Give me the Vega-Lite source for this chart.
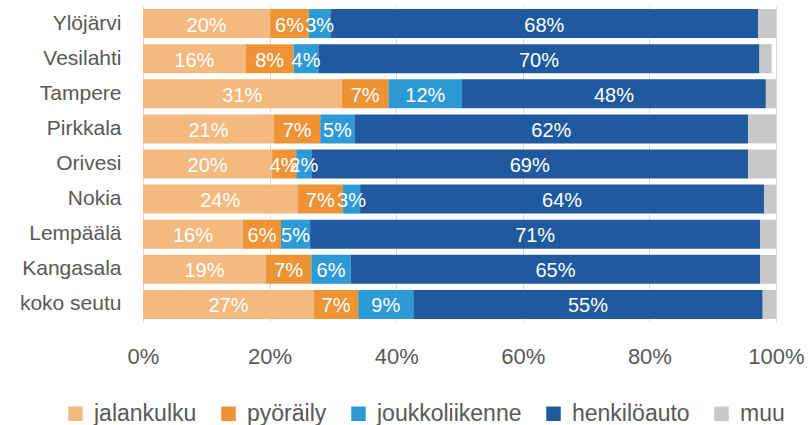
{
  "$schema": "https://vega.github.io/schema/vega-lite/v6.json",
  "width": 633,
  "height": 316,
  "autosize": {"type": "none"},
  "padding": {"left": 143, "top": 6, "right": 32, "bottom": 103},
  "background": "white",
  "data": {
    "values": [
      {"place": "Ylöjärvi", "mode": "jalankulku", "k": 1, "value": 0.201},
      {"place": "Ylöjärvi", "mode": "pyöräily", "k": 2, "value": 0.061},
      {"place": "Ylöjärvi", "mode": "joukkoliikenne", "k": 3, "value": 0.034},
      {"place": "Ylöjärvi", "mode": "henkilöauto", "k": 4, "value": 0.676},
      {"place": "Ylöjärvi", "mode": "muu", "k": 5, "value": 0.028},
      {"place": "Vesilahti", "mode": "jalankulku", "k": 1, "value": 0.162},
      {"place": "Vesilahti", "mode": "pyöräily", "k": 2, "value": 0.076},
      {"place": "Vesilahti", "mode": "joukkoliikenne", "k": 3, "value": 0.039},
      {"place": "Vesilahti", "mode": "henkilöauto", "k": 4, "value": 0.697},
      {"place": "Vesilahti", "mode": "muu", "k": 5, "value": 0.019},
      {"place": "Tampere", "mode": "jalankulku", "k": 1, "value": 0.314},
      {"place": "Tampere", "mode": "pyöräily", "k": 2, "value": 0.074},
      {"place": "Tampere", "mode": "joukkoliikenne", "k": 3, "value": 0.116},
      {"place": "Tampere", "mode": "henkilöauto", "k": 4, "value": 0.480},
      {"place": "Tampere", "mode": "muu", "k": 5, "value": 0.016},
      {"place": "Pirkkala", "mode": "jalankulku", "k": 1, "value": 0.207},
      {"place": "Pirkkala", "mode": "pyöräily", "k": 2, "value": 0.073},
      {"place": "Pirkkala", "mode": "joukkoliikenne", "k": 3, "value": 0.054},
      {"place": "Pirkkala", "mode": "henkilöauto", "k": 4, "value": 0.622},
      {"place": "Pirkkala", "mode": "muu", "k": 5, "value": 0.044},
      {"place": "Orivesi", "mode": "jalankulku", "k": 1, "value": 0.204},
      {"place": "Orivesi", "mode": "pyöräily", "k": 2, "value": 0.038},
      {"place": "Orivesi", "mode": "joukkoliikenne", "k": 3, "value": 0.024},
      {"place": "Orivesi", "mode": "henkilöauto", "k": 4, "value": 0.690},
      {"place": "Orivesi", "mode": "muu", "k": 5, "value": 0.044},
      {"place": "Nokia", "mode": "jalankulku", "k": 1, "value": 0.244},
      {"place": "Nokia", "mode": "pyöräily", "k": 2, "value": 0.072},
      {"place": "Nokia", "mode": "joukkoliikenne", "k": 3, "value": 0.027},
      {"place": "Nokia", "mode": "henkilöauto", "k": 4, "value": 0.638},
      {"place": "Nokia", "mode": "muu", "k": 5, "value": 0.019},
      {"place": "Lempäälä", "mode": "jalankulku", "k": 1, "value": 0.158},
      {"place": "Lempäälä", "mode": "pyöräily", "k": 2, "value": 0.060},
      {"place": "Lempäälä", "mode": "joukkoliikenne", "k": 3, "value": 0.046},
      {"place": "Lempäälä", "mode": "henkilöauto", "k": 4, "value": 0.711},
      {"place": "Lempäälä", "mode": "muu", "k": 5, "value": 0.025},
      {"place": "Kangasala", "mode": "jalankulku", "k": 1, "value": 0.194},
      {"place": "Kangasala", "mode": "pyöräily", "k": 2, "value": 0.072},
      {"place": "Kangasala", "mode": "joukkoliikenne", "k": 3, "value": 0.062},
      {"place": "Kangasala", "mode": "henkilöauto", "k": 4, "value": 0.647},
      {"place": "Kangasala", "mode": "muu", "k": 5, "value": 0.025},
      {"place": "koko seutu", "mode": "jalankulku", "k": 1, "value": 0.270},
      {"place": "koko seutu", "mode": "pyöräily", "k": 2, "value": 0.070},
      {"place": "koko seutu", "mode": "joukkoliikenne", "k": 3, "value": 0.087},
      {"place": "koko seutu", "mode": "henkilöauto", "k": 4, "value": 0.552},
      {"place": "koko seutu", "mode": "muu", "k": 5, "value": 0.021}
    ]
  },
  "encoding": {
    "y": {
      "field": "place",
      "type": "nominal",
      "sort": null,
      "title": null,
      "scale": {"paddingInner": 0.174, "paddingOuter": 0.087},
      "axis": {
        "domain": false,
        "ticks": false,
        "labelFont": "Liberation Sans",
        "labelFontSize": 21,
        "labelColor": "#595959",
        "labelPadding": 22
      }
    }
  },
  "layer": [
    {
      "mark": {"type": "bar"},
      "encoding": {
        "x": {
          "field": "value",
          "type": "quantitative",
          "stack": "zero",
          "title": null,
          "scale": {"domain": [0, 1], "nice": false},
          "axis": {
            "values": [0, 0.2, 0.4, 0.6, 0.8, 1],
            "format": ".0%",
            "grid": true,
            "gridColor": "#d9d9d9",
            "gridWidth": 1,
            "domain": false,
            "ticks": false,
            "labelFont": "Liberation Sans",
            "labelFontSize": 22,
            "labelColor": "#595959",
            "labelPadding": 24,
            "labelFlush": false
          }
        },
        "color": {
          "field": "mode",
          "type": "nominal",
          "sort": ["jalankulku", "pyöräily", "joukkoliikenne", "henkilöauto", "muu"],
          "scale": {
            "domain": ["jalankulku", "pyöräily", "joukkoliikenne", "henkilöauto", "muu"],
            "range": ["#F3B97E", "#EE9336", "#2E9AD5", "#205A9E", "#C8C8C8"]
          },
          "legend": {
            "title": null,
            "orient": "none",
            "direction": "horizontal",
            "legendX": -79,
            "legendY": 396,
            "symbolType": "square",
            "symbolSize": 210,
            "symbolStrokeWidth": 0,
            "labelFont": "Liberation Sans",
            "labelFontSize": 23,
            "labelColor": "#595959",
            "labelOffset": 7,
            "columnPadding": 20
          }
        },
        "order": {"field": "k", "type": "quantitative"}
      }
    },
    {
      "transform": [{"filter": "datum.mode != 'muu'"}],
      "mark": {
        "type": "text",
        "color": "white",
        "font": "Liberation Sans",
        "fontSize": 20,
        "baseline": "middle",
        "align": "center",
        "dy": 2
      },
      "encoding": {
        "x": {
          "field": "value",
          "type": "quantitative",
          "stack": "zero",
          "bandPosition": 0.5
        },
        "text": {"field": "value", "type": "quantitative", "format": ".0%"},
        "order": {"field": "k", "type": "quantitative"}
      }
    }
  ],
  "config": {
    "view": {"stroke": null}
  }
}
